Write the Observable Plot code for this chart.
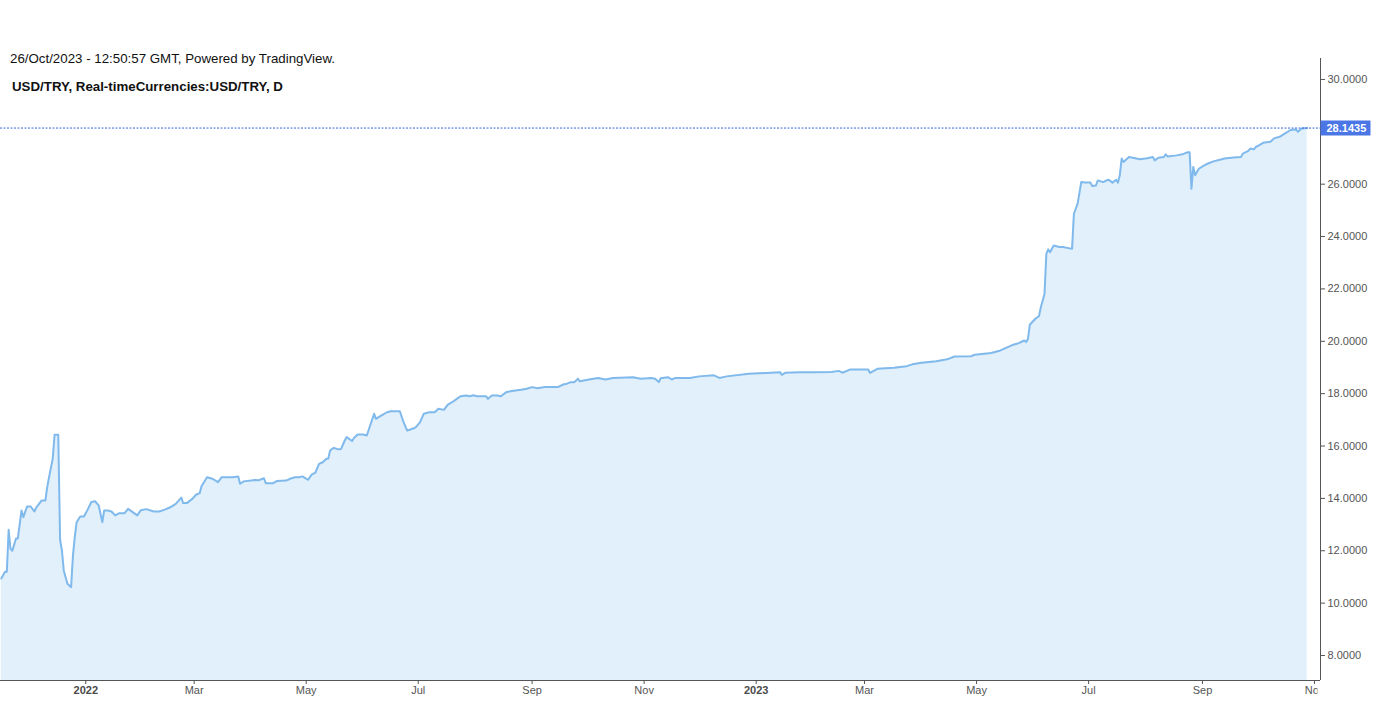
<!DOCTYPE html>
<html>
<head>
<meta charset="utf-8">
<script src="https://cdn.jsdelivr.net/npm/d3@7"></script>
<script src="https://cdn.jsdelivr.net/npm/@observablehq/plot@0.6"></script>
<style>
  html, body { margin: 0; padding: 0; background: #fff; }
  #wrap { position: relative; width: 1378px; height: 703px; overflow: hidden; }
  .hdr { position: absolute; font-family: "Liberation Sans", Arial, sans-serif; font-size: 13.3px; line-height: 13px; color: #111; white-space: nowrap; }
  #t1 { left: 10px; top: 52px; }
  #t2 { left: 12px; top: 79.5px; font-weight: bold; }
</style>
</head>
<body>
<div id="wrap">
  <div class="hdr" id="t1">26/Oct/2023 - 12:50:57 GMT, Powered by TradingView.</div>
  <div class="hdr" id="t2">USD/TRY, Real-timeCurrencies:USD/TRY, D</div>
</div>
<script>
// ---- data ----
const dates = [
  "2021-11-16","2021-11-18","2021-11-19","2021-11-20","2021-11-21","2021-11-22","2021-11-24","2021-11-25","2021-11-27","2021-11-28",
  "2021-11-30","2021-12-02","2021-12-04","2021-12-05","2021-12-08","2021-12-10","2021-12-11","2021-12-12","2021-12-14","2021-12-15",
  "2021-12-17","2021-12-18","2021-12-19","2021-12-20","2021-12-22","2021-12-24","2021-12-25","2021-12-26","2021-12-27","2021-12-29",
  "2021-12-31","2022-01-02","2022-01-04","2022-01-06","2022-01-08","2022-01-10","2022-01-11","2022-01-13","2022-01-15","2022-01-17",
  "2022-01-19","2022-01-22","2022-01-24","2022-01-25","2022-01-29","2022-01-31","2022-02-03","2022-02-07","2022-02-10","2022-02-13",
  "2022-02-16","2022-02-19","2022-02-21","2022-02-22","2022-02-23","2022-02-25","2022-02-28","2022-03-02","2022-03-04","2022-03-05",
  "2022-03-08","2022-03-11","2022-03-14","2022-03-16","2022-03-22","2022-03-25","2022-03-26","2022-03-28","2022-04-01","2022-04-03",
  "2022-04-05","2022-04-08","2022-04-09","2022-04-13","2022-04-15","2022-04-20","2022-04-23","2022-04-25","2022-04-27","2022-04-29",
  "2022-05-02","2022-05-04","2022-05-06","2022-05-08","2022-05-10","2022-05-12","2022-05-13","2022-05-14","2022-05-16","2022-05-18",
  "2022-05-20","2022-05-22","2022-05-23","2022-05-26","2022-05-27","2022-05-29","2022-06-01","2022-06-03","2022-06-05","2022-06-07",
  "2022-06-08","2022-06-11","2022-06-14","2022-06-16","2022-06-21","2022-06-23","2022-06-25","2022-06-29","2022-06-30","2022-07-02",
  "2022-07-04","2022-07-07","2022-07-10","2022-07-12","2022-07-15","2022-07-17","2022-07-20","2022-07-22","2022-07-24","2022-07-27",
  "2022-07-29","2022-07-31","2022-08-02","2022-08-07","2022-08-08","2022-08-10","2022-08-13","2022-08-15","2022-08-18","2022-08-21",
  "2022-08-26","2022-08-29","2022-09-01","2022-09-04","2022-09-08","2022-09-13","2022-09-15","2022-09-18","2022-09-20","2022-09-22",
  "2022-09-24","2022-09-26","2022-09-27","2022-10-02","2022-10-07","2022-10-11","2022-10-15","2022-10-26","2022-10-30","2022-11-05",
  "2022-11-07","2022-11-09","2022-11-10","2022-11-14","2022-11-16","2022-11-18","2022-11-26","2022-12-01","2022-12-09","2022-12-12",
  "2022-12-16","2022-12-28","2023-01-09","2023-01-14","2023-01-15","2023-01-17","2023-01-25","2023-02-01","2023-02-11","2023-02-15",
  "2023-02-17","2023-02-21","2023-03-03","2023-03-04","2023-03-08","2023-03-17","2023-03-24","2023-03-27","2023-04-01","2023-04-09",
  "2023-04-15","2023-04-19","2023-04-28","2023-04-30","2023-05-09","2023-05-14","2023-05-18","2023-05-21","2023-05-24","2023-05-27",
  "2023-05-28","2023-05-29","2023-05-30","2023-06-02","2023-06-04","2023-06-05","2023-06-07","2023-06-08","2023-06-09","2023-06-10",
  "2023-06-12","2023-06-15","2023-06-17","2023-06-22","2023-06-23","2023-06-25","2023-06-27","2023-06-29","2023-07-02","2023-07-03",
  "2023-07-05","2023-07-06","2023-07-09","2023-07-10","2023-07-12","2023-07-14","2023-07-16","2023-07-17","2023-07-18","2023-07-19",
  "2023-07-20","2023-07-23","2023-07-29","2023-08-02","2023-08-05","2023-08-06","2023-08-08","2023-08-11","2023-08-12","2023-08-13",
  "2023-08-18","2023-08-21","2023-08-24","2023-08-25","2023-08-26","2023-08-27","2023-08-28","2023-08-30","2023-09-02","2023-09-04",
  "2023-09-07","2023-09-11","2023-09-13","2023-09-18","2023-09-22","2023-09-23","2023-09-26","2023-09-27","2023-09-29","2023-09-30",
  "2023-10-02","2023-10-04","2023-10-08","2023-10-10","2023-10-13","2023-10-16","2023-10-19","2023-10-22","2023-10-23","2023-10-25",
  "2023-10-28"
];
const closes = [
  10.94,11.20,11.20,12.80,12.08,12.00,12.47,12.47,13.54,13.28,
  13.69,13.69,13.50,13.65,13.92,13.92,14.43,14.81,15.52,16.43,
  16.43,12.42,12.01,11.25,10.74,10.61,11.82,12.52,13.09,13.31,
  13.31,13.57,13.86,13.89,13.73,13.09,13.54,13.54,13.50,13.35,
  13.43,13.43,13.60,13.55,13.35,13.55,13.59,13.50,13.50,13.57,
  13.66,13.79,13.95,14.03,13.82,13.82,13.98,14.14,14.20,14.46,
  14.81,14.75,14.62,14.81,14.81,14.84,14.56,14.65,14.68,14.70,
  14.69,14.77,14.58,14.58,14.66,14.68,14.77,14.81,14.81,14.84,
  14.71,14.91,14.98,15.32,15.38,15.51,15.51,15.83,15.93,15.88,
  15.89,16.21,16.34,16.19,16.31,16.44,16.44,16.40,16.82,17.23,
  17.04,17.17,17.29,17.33,17.33,16.91,16.59,16.69,16.74,16.91,
  17.23,17.29,17.29,17.42,17.38,17.57,17.70,17.80,17.90,17.93,
  17.90,17.94,17.90,17.90,17.80,17.93,17.93,17.90,18.06,18.10,
  18.15,18.19,18.25,18.21,18.25,18.25,18.25,18.35,18.38,18.44,
  18.44,18.57,18.47,18.54,18.60,18.54,18.60,18.63,18.57,18.60,
  18.57,18.44,18.59,18.63,18.54,18.60,18.60,18.66,18.70,18.60,
  18.66,18.76,18.80,18.82,18.72,18.80,18.82,18.82,18.83,18.87,
  18.80,18.92,18.92,18.79,18.95,18.99,19.05,19.12,19.18,19.24,
  19.31,19.42,19.43,19.49,19.55,19.65,19.78,19.87,19.93,20.03,
  19.97,20.10,20.63,20.86,20.96,21.30,21.81,23.34,23.51,23.40,
  23.66,23.60,23.60,23.53,24.87,25.25,26.08,26.06,26.06,25.93,
  25.95,26.14,26.08,26.12,26.17,26.06,26.17,26.06,26.34,26.98,
  26.85,27.04,26.95,26.99,27.04,26.91,27.01,27.04,27.14,27.06,
  27.10,27.14,27.22,27.22,25.83,26.66,26.34,26.59,26.72,26.79,
  26.87,26.94,26.98,27.02,27.04,27.17,27.27,27.36,27.33,27.42,
  27.49,27.58,27.62,27.75,27.81,27.94,28.07,28.09,28.00,28.13,
  28.1435
];
const lastPrice = 28.1435;
const yTicks = [8, 10, 12, 14, 16, 18, 20, 22, 24, 26, 30];
const monthTickDates = ["2022-03-01","2022-05-01","2022-07-01","2022-09-01","2022-11-01","2023-03-01","2023-05-01","2023-07-01","2023-09-01","2023-11-01"];
const monthTickLabels = ["Mar","May","Jul","Sep","Nov","Mar","May","Jul","Sep","Nov"];
const yearTickDates = ["2022-01-01","2023-01-01"];
const yearTickLabels = ["2022","2023"];
const xDomain = [new Date("2021-11-15T13:19:00Z"), new Date("2023-11-04T06:30:00Z")];
const yDomain = [7.045, 30.80];

// ---- build ----
const data = dates.map((d, i) => ({date: new Date(d + "T00:00:00Z"), value: closes[i]}));
const monthTicks = monthTickDates.map(d => new Date(d + "T00:00:00Z"));
const yearTicks = yearTickDates.map(d => new Date(d + "T00:00:00Z"));
const labelOf = new Map();
monthTicks.forEach((d, i) => labelOf.set(+d, monthTickLabels[i]));
yearTicks.forEach((d, i) => labelOf.set(+d, yearTickLabels[i]));

const lineColor = "#80b9ec";
const fillColor = "#e1f0fa";
const priceBlue = "#4a76e6";
const axisColor = "#555";

const labelBox = { draw(context) { context.rect(0, -7.5, 50, 15); } };

const chart = Plot.plot({
  width: 1378,
  height: 703,
  marginTop: 58,
  marginBottom: 23,
  marginLeft: 0,
  marginRight: 58,
  x: {type: "utc", domain: xDomain, label: null},
  y: {domain: yDomain, label: null},
  style: {fontFamily: "'Liberation Sans', Arial, sans-serif", fontSize: "11px", color: axisColor, background: "transparent", overflow: "visible"},
  marks: [
    Plot.areaY(data, {x: "date", y: "value", fill: fillColor, clip: true}),
    Plot.lineY(data, {x: "date", y: "value", stroke: lineColor, strokeWidth: 2, clip: true}),
    Plot.ruleY([lastPrice], {stroke: "#3564e0", strokeWidth: 1, strokeDasharray: "2,1.5"}),
    Plot.ruleX([xDomain[1]], {stroke: axisColor}),
    Plot.ruleY([yDomain[0]], {stroke: axisColor}),
    Plot.axisY(yTicks, {anchor: "right", tickSize: 4, tickPadding: 3, tickFormat: d => d.toFixed(4), color: axisColor, label: null}),
    Plot.axisX(monthTicks, {anchor: "bottom", tickSize: 4, tickPadding: 2, tickFormat: d => labelOf.get(+d), color: axisColor, label: null}),
    Plot.axisX(yearTicks, {anchor: "bottom", tickSize: 4, tickPadding: 2, tickFormat: d => labelOf.get(+d), color: "#4a4a4a", fontWeight: "bold", label: null}),
    Plot.dot([lastPrice], {y: d => d, frameAnchor: "right", symbol: labelBox, fill: priceBlue, stroke: null}),
    Plot.text([lastPrice], {y: d => d, frameAnchor: "right", dx: 6, textAnchor: "start", fill: "white", fontWeight: "bold", fontSize: 11, text: d => d.toFixed(4)})
  ]
});

// clip x tick labels at the right edge of the plot (like the reference "Nov" cut)
const ns = "http://www.w3.org/2000/svg";
const defs = document.createElementNS(ns, "defs");
const cp = document.createElementNS(ns, "clipPath");
cp.setAttribute("id", "xlabclip");
const r = document.createElementNS(ns, "rect");
r.setAttribute("x", -100); r.setAttribute("y", -1000); r.setAttribute("width", 1417); r.setAttribute("height", 3000);
cp.appendChild(r); defs.appendChild(cp); chart.insertBefore(defs, chart.firstChild);
chart.querySelectorAll('g[aria-label="x-axis tick label"]').forEach(g => g.setAttribute("clip-path", "url(#xlabclip)"));

chart.style.position = "absolute";
chart.style.left = "0";
chart.style.top = "0";
const wrap = document.getElementById("wrap");
wrap.insertBefore(chart, wrap.firstChild);
</script>
</body>
</html>
